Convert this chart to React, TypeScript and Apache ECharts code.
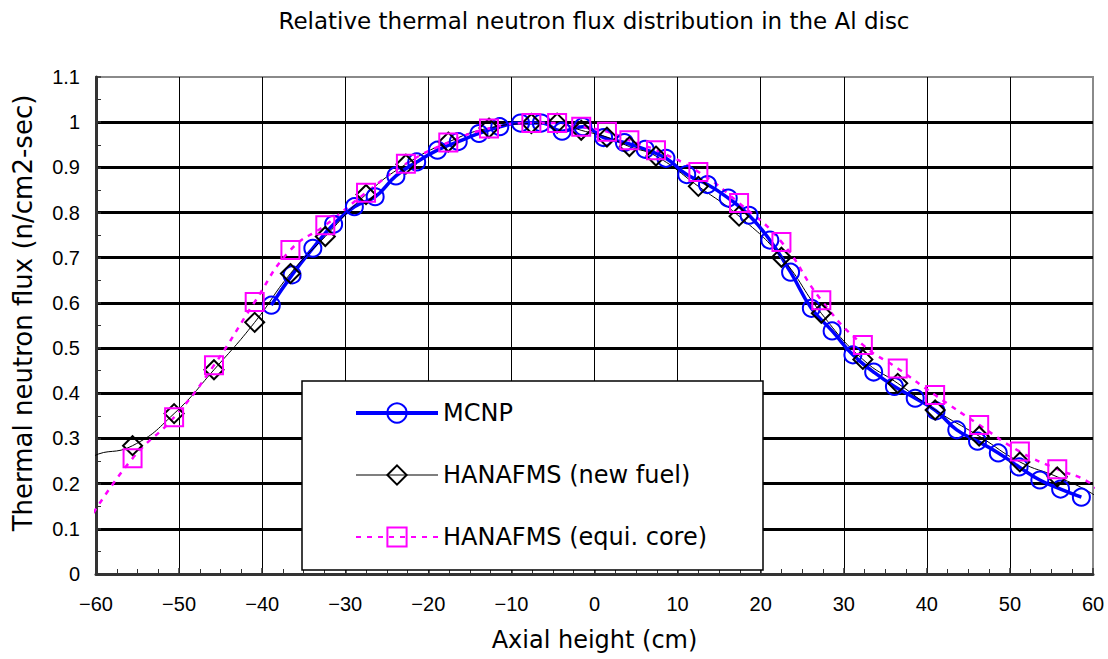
import React, { useEffect, useRef } from "react";
import * as echarts from "echarts";

const TITLE = "Relative thermal neutron flux distribution in the Al disc";
const X_NAME = "Axial height (cm)";
const Y_NAME = "Thermal neutron flux (n/cm2-sec)";
const SERIES_NAMES = ["MCNP", "HANAFMS (new fuel)", "HANAFMS (equi. core)"];

// MCNP tally positions (cm) and relative flux
const mcnpX = [
  -38.9, -36.4, -33.9, -31.4, -28.9, -26.4, -23.9, -21.4, -18.9, -16.4,
  -13.9, -11.4, -8.9, -6.4, -3.9, -1.4, 1.1, 3.6, 6.1, 8.6,
  11.1, 13.6, 16.1, 18.6, 21.1, 23.6, 26.1, 28.6, 31.1, 33.6,
  36.1, 38.6, 41.1, 43.6, 46.1, 48.6, 51.1, 53.6, 56.1, 58.6,
];
const mcnpY = [
  0.595, 0.662, 0.721, 0.774, 0.813, 0.835, 0.881, 0.912, 0.938, 0.957,
  0.975, 0.99, 0.998, 0.998, 0.98, 0.99, 0.966, 0.955, 0.94, 0.92,
  0.884, 0.862, 0.832, 0.794, 0.739, 0.668, 0.588, 0.538, 0.485, 0.447,
  0.415, 0.389, 0.361, 0.319, 0.294, 0.268, 0.237, 0.208, 0.188, 0.17,
];

// HANAFMS node positions (cm)
const hanaX = [
  -55.6, -50.6, -45.8, -40.9, -36.6, -32.4, -27.5, -22.7, -17.6, -12.7,
  -7.6, -4.5, -1.6, 1.5, 4.2, 7.4, 12.5, 17.4, 22.5, 27.3,
  32.3, 36.5, 41.0, 46.3, 51.2, 55.7,
];
const newFuelY = [
  0.284, 0.355, 0.452, 0.557, 0.665, 0.747, 0.84, 0.907, 0.956, 0.987,
  0.997, 0.998, 0.982, 0.967, 0.946, 0.925, 0.858, 0.792, 0.701, 0.577,
  0.475, 0.422, 0.363, 0.305, 0.248, 0.215,
];
const equiCoreY = [
  0.256, 0.347, 0.462, 0.602, 0.717, 0.772, 0.844, 0.908, 0.955, 0.986,
  0.998, 0.998, 0.99, 0.979, 0.96, 0.938, 0.89, 0.821, 0.735, 0.606,
  0.507, 0.455, 0.396, 0.33, 0.271, 0.232,
];

// curve ends beyond the outermost nodes (no markers)
const newFuelLeadX = [-61.2, -60.4];
const newFuelLeadY = [0.232, 0.26];
const newFuelTrailX = [59.8, 61.3];
const newFuelTrailY = [0.179, 0.155];
const equiLeadX = [-61.0];
const equiLeadY = [0.115];
const equiTrailX = [59.6, 61.0];
const equiTrailY = [0.202, 0.17];

const pairs = (xs: number[], ys: number[]) => xs.map((x, i) => [x, ys[i]]);
const bare = (xs: number[], ys: number[]) =>
  xs.map((x, i) => ({ value: [x, ys[i]], symbol: "none" }));

const TICK_FONT = "Liberation Sans";
const TEXT_FONT = "DejaVu Sans";

export default function App() {
  const ref = useRef<HTMLDivElement>(null);

  useEffect(() => {
    if (!ref.current) return;
    const chart = echarts.init(ref.current, null, { renderer: "svg" });

    const option: any = {
      animation: false,
      backgroundColor: "#ffffff",
      grid: {
        left: 96,
        right: 15,
        top: 77,
        bottom: 85,
        show: true,
        borderColor: "#8a8a8a",
        borderWidth: 2,
        backgroundColor: "transparent",
      },
      xAxis: {
        type: "value",
        min: -60,
        max: 60,
        interval: 10,
        name: X_NAME,
        nameLocation: "middle",
        nameGap: 54,
        nameTextStyle: { fontFamily: TEXT_FONT, fontSize: 24, color: "#000" },
        axisLine: { show: true, onZero: false, lineStyle: { color: "#333", width: 3 } },
        axisTick: { show: true, inside: true, length: 6, lineStyle: { color: "#333", width: 1.5 } },
        minorTick: { show: true, splitNumber: 4, length: 5, lineStyle: { color: "#333", width: 1 } },
        axisLabel: {
          margin: 20,
          fontFamily: TICK_FONT,
          fontSize: 20,
          color: "#000",
          formatter: (v: number) => (v < 0 ? "\u2212" + Math.abs(v) : String(v)),
        },
        splitLine: {
          show: true,
          showMinLine: false,
          showMaxLine: false,
          lineStyle: { color: "#000", width: 1 },
        },
      },
      yAxis: {
        type: "value",
        min: 0,
        max: 1.1,
        interval: 0.1,
        axisLine: { show: true, onZero: false, lineStyle: { color: "#333", width: 3 } },
        axisTick: { show: true, inside: true, length: 5, lineStyle: { color: "#333", width: 1.5 } },
        minorTick: { show: true, splitNumber: 2, length: 5, lineStyle: { color: "#333", width: 1 } },
        axisLabel: {
          margin: 16,
          fontFamily: TICK_FONT,
          fontSize: 20,
          color: "#000",
          formatter: (v: number) => String(Math.round(v * 10) / 10),
        },
        splitLine: {
          show: true,
          showMinLine: false,
          showMaxLine: false,
          lineStyle: { color: "#000", width: 3 },
        },
      },
      legend: {
        orient: "vertical",
        left: 354,
        top: 401,
        padding: 0,
        itemWidth: 82,
        itemHeight: 24,
        itemGap: 38,
        z: 5,
        textStyle: { fontFamily: TEXT_FONT, fontSize: 24, lineHeight: 24, color: "#000" },
        data: [
          { name: SERIES_NAMES[0], lineStyle: { width: 4 } },
          { name: SERIES_NAMES[1], lineStyle: { width: 1.5, color: "#555" } },
          { name: SERIES_NAMES[2], lineStyle: { width: 2 } },
        ],
      },
      graphic: [
        {
          type: "text",
          x: 594,
          y: 21,
          z: 5,
          style: {
            text: TITLE,
            fontFamily: TEXT_FONT,
            fontSize: 23,
            fill: "#000",
            textAlign: "center",
            textVerticalAlign: "middle",
          },
        },
        {
          type: "text",
          x: 23,
          y: 313,
          rotation: Math.PI / 2,
          z: 5,
          style: {
            text: Y_NAME,
            fontFamily: TEXT_FONT,
            fontSize: 26,
            fill: "#000",
            textAlign: "center",
            textVerticalAlign: "middle",
          },
        },
        {
          type: "rect",
          z: 3,
          shape: { x: 302, y: 381, width: 461, height: 189 },
          style: { fill: "#ffffff", stroke: "#000", lineWidth: 1.5 },
        },
      ],
      series: [
        {
          name: SERIES_NAMES[0],
          type: "line",
          data: pairs(mcnpX, mcnpY),
          smooth: true,
          clip: false,
          symbol: "circle",
          symbolSize: 17,
          lineStyle: { color: "#0000ff", width: 3.5 },
          itemStyle: { color: "transparent", borderColor: "#0000ff", borderWidth: 2 },
          emphasis: { disabled: true },
        },
        {
          name: SERIES_NAMES[1],
          type: "line",
          data: [
            ...bare(newFuelLeadX, newFuelLeadY),
            ...pairs(hanaX, newFuelY),
            ...bare(newFuelTrailX, newFuelTrailY),
          ],
          smooth: true,
          clip: false,
          symbol: "diamond",
          symbolSize: 19,
          lineStyle: { color: "#000", width: 1 },
          itemStyle: { color: "transparent", borderColor: "#000", borderWidth: 2 },
          emphasis: { disabled: true },
        },
        {
          name: SERIES_NAMES[2],
          type: "line",
          data: [
            ...bare(equiLeadX, equiLeadY),
            ...pairs(hanaX, equiCoreY),
            ...bare(equiTrailX, equiTrailY),
          ],
          smooth: true,
          clip: false,
          symbol: "rect",
          symbolSize: 18,
          lineStyle: { color: "#ff00ff", width: 2.5, type: [5, 6] },
          itemStyle: { color: "transparent", borderColor: "#ff00ff", borderWidth: 2 },
          emphasis: { disabled: true },
        },
      ],
    };

    chart.setOption(option);
    return () => chart.dispose();
  }, []);

  return (
    <div
      ref={ref}
      style={{ position: "absolute", left: 0, top: 0, width: 1108, height: 659 }}
    />
  );
}
